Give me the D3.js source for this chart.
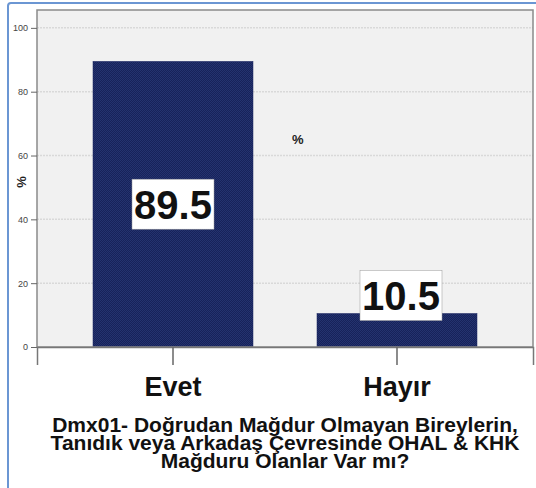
<!DOCTYPE html>
<html>
<head>
<meta charset="utf-8">
<script src="https://cdn.jsdelivr.net/npm/d3@7"></script>
<style>
  body { margin: 0; background: #fff; }
  svg text { font-family: Arial, "Liberation Sans", sans-serif; }
</style>
</head>
<body>
<div id="chart"></div>
<script>
// data
var categories = ["Evet", "Hayır"];
var values = [89.5, 10.5];
var yTicks = [0, 20, 40, 60, 80, 100];
var titleLines = [
  "Dmx01- Doğrudan Mağdur Olmayan Bireylerin,",
  "Tanıdık veya Arkadaş Çevresinde OHAL & KHK",
  "Mağduru Olanlar Var mı?"
];

var margin = {top: 10, right: 3, bottom: 141, left: 37},
    width = 536 - margin.left - margin.right,
    height = 488 - margin.top - margin.bottom;

var root = d3.select("#chart").append("svg")
    .attr("width", 536)
    .attr("height", 488);

// outer blue frame
root.append("rect")
    .attr("x", 8).attr("y", 3)
    .attr("width", 600).attr("height", 600)
    .attr("rx", 3)
    .attr("fill", "#fff")
    .attr("stroke", "#6b96d3")
    .attr("stroke-width", 2);

// stipple pattern for bars
var defs = root.append("defs");
var pat = defs.append("pattern")
    .attr("id", "navy")
    .attr("width", 2).attr("height", 2)
    .attr("patternUnits", "userSpaceOnUse");
pat.append("rect").attr("width", 2).attr("height", 2).attr("fill", "#24336f");
pat.append("rect").attr("width", 1).attr("height", 1).attr("fill", "#17225a");
pat.append("rect").attr("x", 1).attr("y", 1).attr("width", 1).attr("height", 1).attr("fill", "#17225a");

var svg = root.append("g")
    .attr("transform", "translate(" + margin.left + "," + margin.top + ")");

var x = d3.scaleBand().domain(categories).range([0, width])
    .paddingInner(0.2857).paddingOuter(0.25);
var y = d3.scaleLinear().domain([0, 105.6]).range([height, 0]);

// plot background
svg.append("rect")
    .attr("width", width).attr("height", height)
    .attr("fill", "#f1f1f1");

// grid lines
svg.selectAll(".grid")
  .data(yTicks.filter(function(d) { return d > 0; }))
  .enter().append("line")
    .attr("x1", 0).attr("x2", width)
    .attr("y1", function(d) { return y(d); })
    .attr("y2", function(d) { return y(d); })
    .attr("stroke", "#d9d9d9")
    .attr("stroke-width", 1.5)
    .attr("stroke-dasharray", "2,1");

// bars
svg.selectAll(".bar")
  .data(values)
  .enter().append("rect")
    .attr("x", function(d, i) { return x(categories[i]); })
    .attr("y", function(d) { return y(d); })
    .attr("width", x.bandwidth())
    .attr("height", function(d) { return height - y(d); })
    .attr("fill", "url(#navy)")
    .attr("stroke", "#1a2560")
    .attr("stroke-width", 0.5);

// plot border
svg.append("rect")
    .attr("width", width).attr("height", height)
    .attr("fill", "none")
    .attr("stroke", "#8a8a8a")
    .attr("stroke-width", 1.5);

// Y axis
var yAxis = svg.append("g")
    .call(d3.axisLeft(y).tickValues(yTicks).tickSize(6).tickPadding(3));
yAxis.select(".domain").remove();
yAxis.selectAll("line").attr("stroke", "#666");
yAxis.selectAll("text").attr("font-size", 9).attr("fill", "#444")
    .style("font-family", "Arial, 'Liberation Sans', sans-serif");

// X axis
var xAxis = svg.append("g")
    .attr("transform", "translate(0," + height + ")")
    .call(d3.axisBottom(x).tickSize(18).tickPadding(12));
xAxis.select(".domain").attr("stroke", "#777").attr("stroke-width", 1.5);
xAxis.selectAll("line").attr("stroke", "#666").attr("stroke-width", 1.5);
xAxis.selectAll("text")
    .attr("font-size", 27).attr("font-weight", "bold").attr("fill", "#111")
    .style("font-family", "Arial, 'Liberation Sans', sans-serif");

// value labels
var boxW = 82, boxH = 50;
var labels = svg.selectAll(".lab")
  .data(values)
  .enter().append("g")
    .attr("transform", function(d, i) {
      var cx = x(categories[i]) + x.bandwidth() / 2;
      var cy = (height - y(d)) > boxH + 10 ? y(d / 2) : y(d) - 18;
      if ((height - y(d)) <= boxH + 10) cx += 4;
      return "translate(" + cx + "," + cy + ")";
    });
labels.append("rect")
    .attr("x", -boxW / 2).attr("y", -boxH / 2)
    .attr("width", boxW).attr("height", boxH)
    .attr("fill", "#fff")
    .attr("stroke", "#999")
    .attr("stroke-width", 0.5);
labels.append("text")
    .attr("text-anchor", "middle")
    .attr("dy", "0.36em")
    .attr("font-size", 40)
    .attr("font-weight", "bold")
    .attr("fill", "#111")
    .text(function(d) { return d.toFixed(1); });

// legend-like percent sign
svg.append("text")
    .attr("x", 255).attr("y", 134)
    .attr("font-size", 13).attr("font-weight", "bold")
    .attr("fill", "#222")
    .text("%");

// y axis title
root.append("text")
    .attr("transform", "translate(26,182) rotate(-90)")
    .attr("text-anchor", "middle")
    .attr("font-size", 13).attr("font-weight", "bold")
    .attr("fill", "#222")
    .text("%");

// x axis title
root.append("text")
    .attr("x", margin.left + width / 2)
    .attr("text-anchor", "middle")
    .attr("font-size", 21).attr("font-weight", "bold")
    .attr("fill", "#111")
  .selectAll("tspan")
  .data(titleLines)
  .enter().append("tspan")
    .attr("x", margin.left + width / 2)
    .attr("y", function(d, i) { return 432 + i * 18; })
    .text(function(d) { return d; });
</script>
</body>
</html>
